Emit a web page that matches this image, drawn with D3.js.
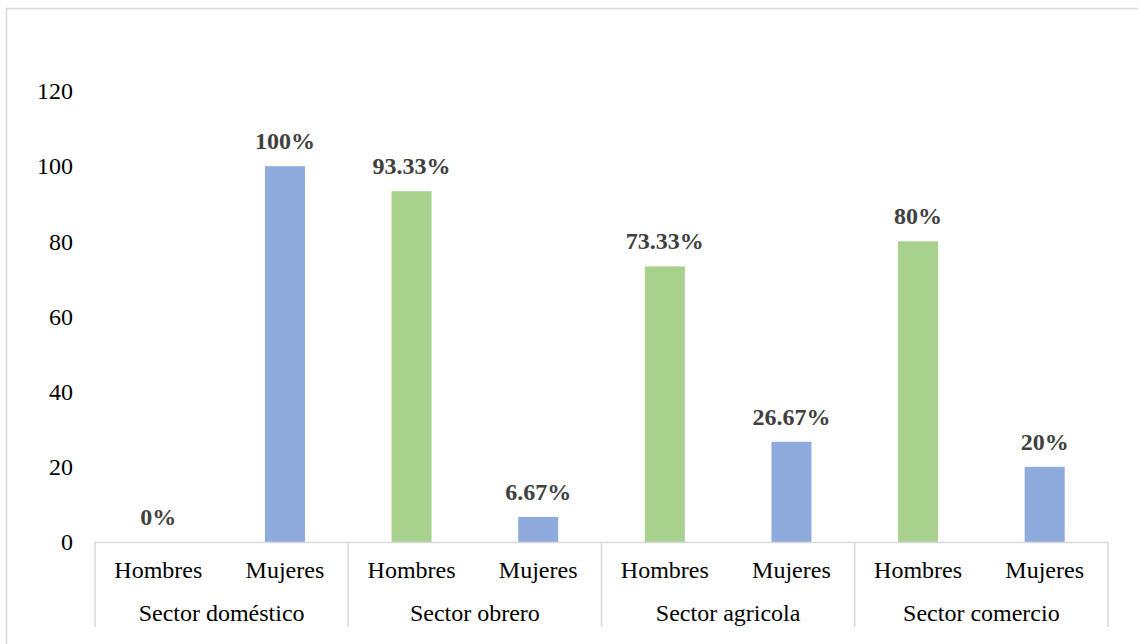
<!DOCTYPE html>
<html>
<head>
<meta charset="utf-8">
<script src="https://cdn.jsdelivr.net/npm/d3@7"></script>
<style>
  html, body { margin: 0; padding: 0; background: #fff; }
  svg { display: block; }
</style>
</head>
<body>
<svg id="chart" width="1138" height="644"></svg>
<script>
const groups = ["Sector doméstico", "Sector obrero", "Sector agricola", "Sector comercio"];
const subCategories = ["Hombres", "Mujeres"];
const values = [0, 100, 93.33, 6.67, 73.33, 26.67, 80, 20];
const valueLabels = ["0%", "100%", "93.33%", "6.67%", "73.33%", "26.67%", "80%", "20%"];
const yTicks = [0, 20, 40, 60, 80, 100, 120];
const seriesColors = { "Hombres": "#a9d18e", "Mujeres": "#8faadc" };

const svg = d3.select("#chart");
const font = "'Liberation Serif', 'Times New Roman', serif";

// outer frame
svg.append("rect")
  .attr("x", 6.5).attr("y", 8.5)
  .attr("width", 1150).attr("height", 660)
  .attr("fill", "#fff").attr("stroke", "#d9d9d9").attr("stroke-width", 1.5);

const rows = [];
groups.forEach((g, gi) => subCategories.forEach((s, si) => {
  const i = gi * subCategories.length + si;
  rows.push({ key: i, group: g, sub: s, value: values[i], label: valueLabels[i] });
}));

const x0 = 95, x1 = 1108, yBase = 542, yTop = 91;
const x = d3.scaleBand().domain(rows.map(d => d.key)).range([x0, x1])
  .paddingInner(0.684).paddingOuter(0.342);
const xg = d3.scaleBand().domain(groups).range([x0, x1]);
const y = d3.scaleLinear().domain([0, 120]).range([yBase, yTop]);

// y axis labels
const yAxis = d3.axisLeft(y).tickValues(yTicks).tickSize(0).tickPadding(0);
const ya = svg.append("g").attr("transform", "translate(73,0)").call(yAxis);
ya.select(".domain").remove();
ya.selectAll("text").attr("font-family", font).attr("font-size", 24).attr("fill", "#000");

// bars
svg.append("g").selectAll("rect").data(rows).join("rect")
  .attr("x", d => x(d.key)).attr("width", x.bandwidth())
  .attr("y", d => y(d.value)).attr("height", d => y(0) - y(d.value))
  .attr("fill", d => seriesColors[d.sub]);

// data labels
svg.append("g").selectAll("text").data(rows).join("text")
  .attr("x", d => x(d.key) + x.bandwidth() / 2)
  .attr("y", d => y(d.value) - 17)
  .attr("text-anchor", "middle")
  .attr("font-family", font).attr("font-size", 24).attr("font-weight", "bold")
  .attr("fill", "#404040")
  .text(d => d.label);

// x axis line
svg.append("line").attr("x1", x0).attr("x2", x1).attr("y1", yBase + 0.5).attr("y2", yBase + 0.5)
  .attr("stroke", "#d9d9d9").attr("stroke-width", 1.5);

// group separators
const seps = groups.map(g => xg(g)).concat([x1]);
svg.append("g").selectAll("line").data(seps).join("line")
  .attr("x1", d => d).attr("x2", d => d)
  .attr("y1", yBase).attr("y2", 627)
  .attr("stroke", "#d9d9d9").attr("stroke-width", 1.5);

// sub-category labels
svg.append("g").selectAll("text").data(rows).join("text")
  .attr("x", d => x(d.key) + x.bandwidth() / 2)
  .attr("y", 578)
  .attr("text-anchor", "middle")
  .attr("font-family", font).attr("font-size", 24).attr("fill", "#000")
  .text(d => d.sub);

// group labels
svg.append("g").selectAll("text").data(groups).join("text")
  .attr("x", d => xg(d) + xg.bandwidth() / 2)
  .attr("y", 621)
  .attr("text-anchor", "middle")
  .attr("font-family", font).attr("font-size", 24).attr("fill", "#000")
  .text(d => d);
</script>
</body>
</html>
